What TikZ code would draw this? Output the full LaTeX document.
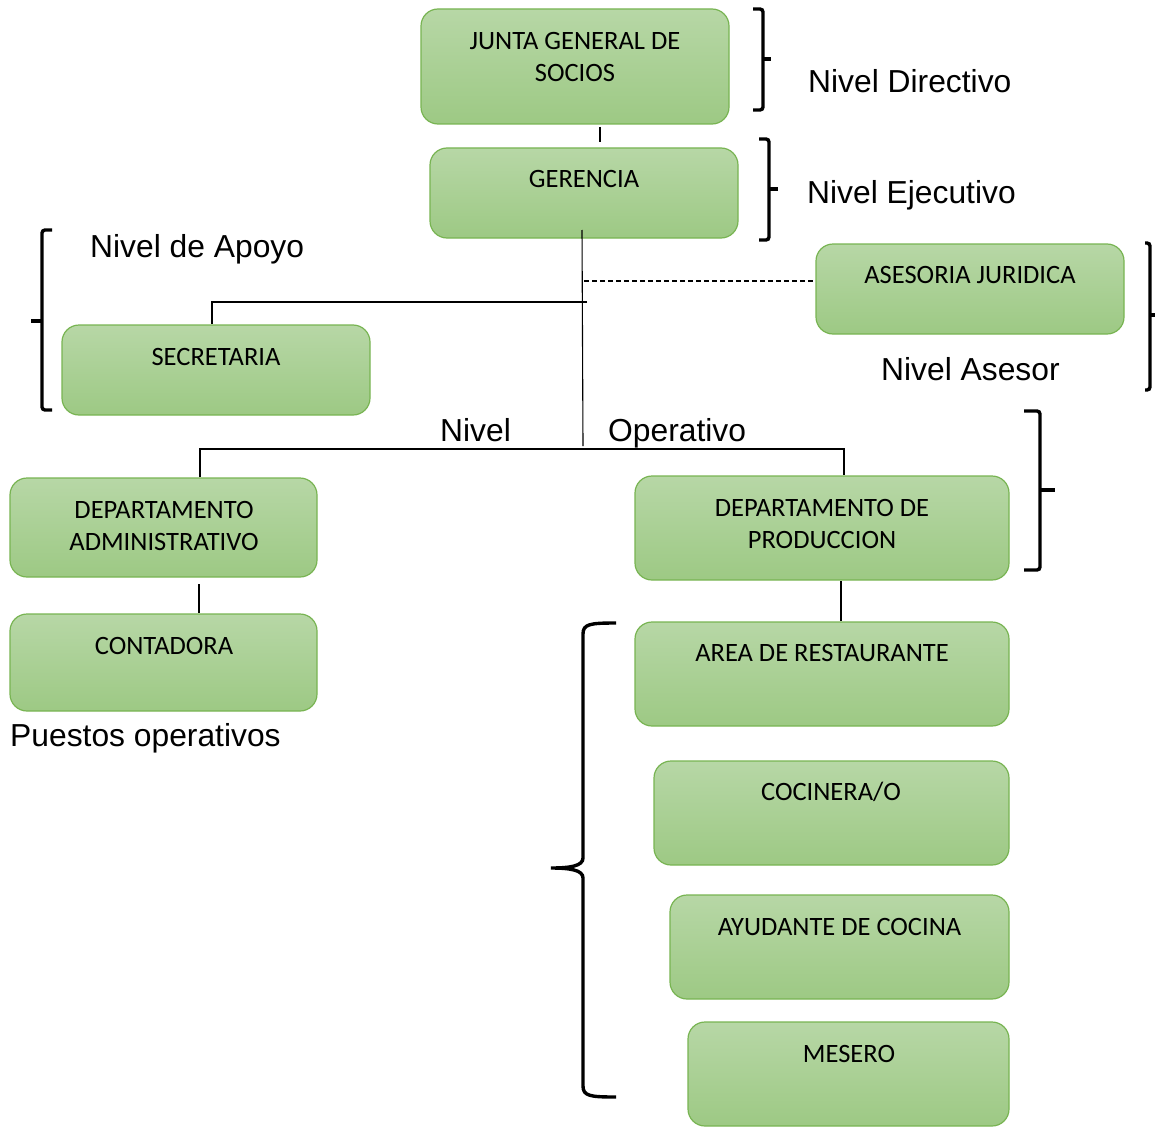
\documentclass[tikz,border=0pt]{standalone}
\usepackage{fontspec}
\setmainfont{Liberation Sans}
\newfontfamily\boxfont{Carlito}
\definecolor{gtop}{RGB}{183,215,166}
\definecolor{gbot}{RGB}{157,201,132}
\definecolor{gline}{RGB}{120,180,82}
\begin{document}
\begin{tikzpicture}[x=1pt,y=-1pt,
  orgbox/.style={draw=gline,line width=1.2pt,rounded corners=17pt,top color=gtop,bottom color=gbot,inner sep=0pt},
  btext/.style={font=\boxfont\fontsize{26.5}{30}\selectfont,anchor=base,inner sep=0pt},
  lvl/.style={font=\fontsize{31.8}{36}\selectfont,anchor=base west,inner sep=0pt},
  conn/.style={line width=1.1pt,black},
  brc/.style={line width=3.4pt,black,rounded corners=3pt},
  tick/.style={line width=3.4pt,black}]
\useasboundingbox (0,0) rectangle (1155,1126);
% boxes
\node[orgbox,minimum width=308pt,minimum height=115pt] (junta) at (575,66.5) {};
\node[orgbox,minimum width=308pt,minimum height=90pt] (ger) at (584,193) {};
\node[orgbox,minimum width=308pt,minimum height=90pt] (ases) at (970,289) {};
\node[orgbox,minimum width=308pt,minimum height=90pt] (sec) at (216,370) {};
\node[orgbox,minimum width=307pt,minimum height=99pt] (dadm) at (163.5,527.5) {};
\node[orgbox,minimum width=374pt,minimum height=104pt] (dprod) at (822,528) {};
\node[orgbox,minimum width=307pt,minimum height=97pt] (cont) at (163.5,662.5) {};
\node[orgbox,minimum width=374pt,minimum height=104pt] (area) at (822,674) {};
\node[orgbox,minimum width=355pt,minimum height=104pt] (coc) at (831.5,813) {};
\node[orgbox,minimum width=339pt,minimum height=104pt] (ayu) at (839.5,947) {};
\node[orgbox,minimum width=321pt,minimum height=104pt] (mes) at (848.5,1074) {};
% box texts
\node[btext] (t1) at (575,49.5) {JUNTA GENERAL DE};
\node[btext] (t2) at (575,81.5) {SOCIOS};
\node[btext] (t3) at (584,187.5) {GERENCIA};
\node[btext] (t4) at (970,283.5) {ASESORIA JURIDICA};
\node[btext] (t5) at (216,365.5) {SECRETARIA};
\node[btext] (t6) at (164,518.5) {DEPARTAMENTO};
\node[btext] (t7) at (164,550.5) {ADMINISTRATIVO};
\node[btext] (t8) at (822,516.5) {DEPARTAMENTO DE};
\node[btext] (t9) at (822,548.5) {PRODUCCION};
\node[btext] (t10) at (164,654.5) {CONTADORA};
\node[btext] (t11) at (822,661.5) {AREA DE RESTAURANTE};
\node[btext] (t12) at (831,800.5) {COCINERA/O};
\node[btext] (t13) at (839.5,935.5) {AYUDANTE DE COCINA};
\node[btext] (t14) at (849,1062.5) {MESERO};
% level labels
\node[lvl] (l1) at (808,93) {Nivel Directivo};
\node[lvl] (l2) at (807,203) {Nivel Ejecutivo};
\node[lvl] (l3) at (90,257) {Nivel de Apoyo};
\node[lvl] (l4) at (881,380) {Nivel Asesor};
\node[lvl] (l5) at (440,441) {Nivel};
\node[lvl] (l6) at (608,441) {Operativo};
\node[lvl] (l7) at (10,746) {Puestos operativos};
% connectors
\coordinate (jg1) at (600,127);
\coordinate (jg2) at (600,142);
\draw[conn] (jg1) -- (jg2);
\coordinate (gtop) at (582,230);
\coordinate (gbot) at (583,446);
\draw[conn] (gtop) -- (gbot);
\coordinate (s1) at (587,302);
\coordinate (s2) at (212,302);
\draw[conn] (s1) -- (s2) -- (sec.north -| s2);
\coordinate (d1) at (584,281);
\draw[conn,dash pattern=on 5pt off 3pt] (d1) -- (ases.west |- d1);
\coordinate (h1) at (200,449);
\coordinate (h2) at (844,449);
\draw[conn] (dadm.north -| h1) -- (h1) -- (h2) -- (dprod.north -| h2);
\coordinate (c1) at (199,584);
\draw[conn] (c1) -- (cont.north -| c1);
\coordinate (a1) at (841,581);
\draw[conn] (a1) -- (area.north -| a1);
% braces
\draw[brc] (753,9) -- (763,9) -- (763,110) -- (753,110);
\draw[tick] (763,59) -- (771,59);
\draw[brc] (759,139) -- (769,139) -- (769,240) -- (759,240);
\draw[tick] (769,189) -- (778,189);
\draw[brc] (52,230) -- (42,230) -- (42,410) -- (52,410);
\draw[tick] (42,321) -- (31,321);
\draw[brc] (1145,243) -- (1150,243) -- (1150,390) -- (1145,390);
\draw[tick] (1150,315) -- (1155,315);
\draw[brc] (1024,411) -- (1040,411) -- (1040,570) -- (1024,570);
\draw[tick] (1040,490) -- (1055,490);
\draw[line width=3.4pt] (616,623) .. controls (590,623) and (583,624) .. (583,634)
  -- (583,858) .. controls (583,866) and (570,868) .. (551,868)
  .. controls (570,868) and (583,870) .. (583,878)
  -- (583,1086) .. controls (583,1096) and (590,1097) .. (616,1097);
\end{tikzpicture}
\end{document}
